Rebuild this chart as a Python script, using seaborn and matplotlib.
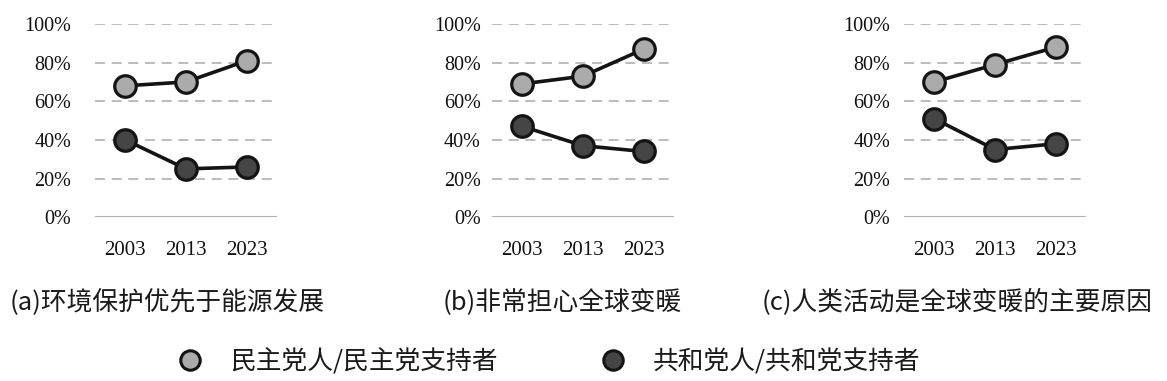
import matplotlib
matplotlib.use('Agg')
import matplotlib.pyplot as plt
from matplotlib.lines import Line2D
import seaborn as sns

years = ['2003', '2013', '2023']
captions = ['(a)环境保护优先于能源发展', '(b)非常担心全球变暖', '(c)人类活动是全球变暖的主要原因']
dem = [[68, 70, 81], [69, 73, 87], [70, 79, 88]]
rep = [[40, 25, 26], [47, 37, 34], [51, 35, 38]]
yticks = [0, 20, 40, 60, 80, 100]
series_names = ['民主党人/民主党支持者', '共和党人/共和党支持者']

sns.set_style('white')
plt.rcParams['font.family'] = ['Noto Sans CJK SC', 'DejaVu Sans']

dem_fill = '#ababab'
rep_fill = '#454545'
edge = '#141414'

fig = plt.figure(figsize=(11.67, 3.81), dpi=100)
lefts = [95, 492, 904]
ypads = [17, 8, 10]
cap_x = [10, 443, 762]
for i in range(3):
    ax = fig.add_axes([lefts[i] / 1167, 0.430, 182 / 1167, 0.507])
    for y in yticks[1:]:
        ax.axhline(y, color='#b0b0b0', lw=1.2, ls=(0, (6, 4)), zorder=0)
    ax.axhline(0, color='#b0b0b0', lw=1.5, zorder=0)
    xs = list(range(len(years)))
    for vals, fill in [(dem[i], dem_fill), (rep[i], rep_fill)]:
        sns.lineplot(x=xs, y=vals, ax=ax, color=edge, linewidth=2.6,
                     marker='o', markersize=15.5, markerfacecolor=fill,
                     markeredgecolor=edge, markeredgewidth=2.3, clip_on=False)
    ax.set_xlim(-0.5, 2.5)
    ax.set_ylim(0, 100)
    ax.set_xticks(xs)
    ax.set_xticklabels(years, family='Liberation Serif', fontsize=15, color='#111111')
    ax.set_yticks(yticks)
    ax.set_yticklabels([f'{v}%' for v in yticks], family='Liberation Serif',
                       fontsize=14.5, color='#111111')
    ax.tick_params(axis='x', length=0, pad=17)
    ax.tick_params(axis='y', length=0, pad=ypads[i])
    sns.despine(ax=ax, left=True, bottom=True)
    fig.text(cap_x[i] / 1167, 1 - 303 / 381, captions[i], fontsize=18.5,
             va='center', ha='left', color='#1a1a1a')

handles = [Line2D([], [], ls='none', marker='o', markersize=14, markerfacecolor=f,
                  markeredgecolor=edge, markeredgewidth=2.2) for f in [dem_fill, rep_fill]]
fig.legend(handles, series_names, loc='center left', bbox_to_anchor=(0.152, 1 - 362 / 381),
           ncol=2, frameon=False, fontsize=18.5, handlelength=1, handletextpad=1.05,
           columnspacing=4.0, borderpad=0, borderaxespad=0, labelcolor='#1a1a1a')

fig.savefig('out.png', dpi=100)
